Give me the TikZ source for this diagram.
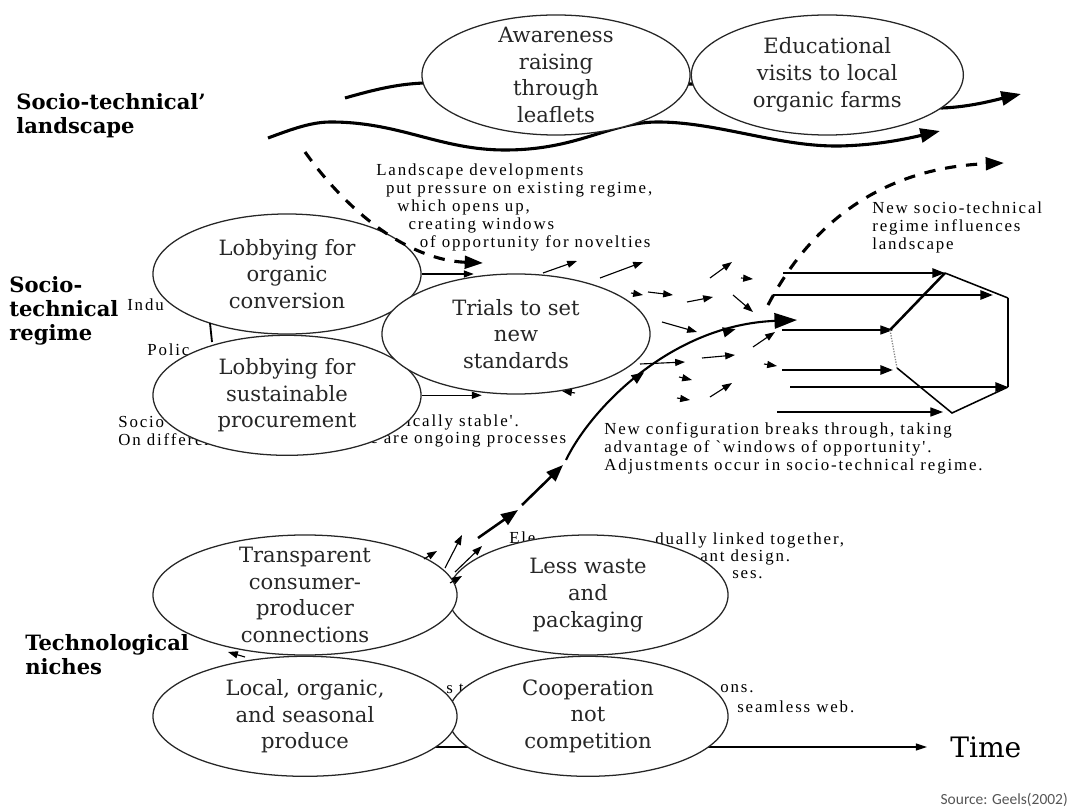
\documentclass[tikz,border=0pt]{standalone}
\usepackage{fontspec}
\setmainfont{DejaVu Serif}
\newfontfamily\geelsfont[LetterSpace=11]{Liberation Serif}
\newfontfamily\sourcefont{Carlito}
\usetikzlibrary{positioning, arrows.meta, shapes.geometric, decorations.markings}
\definecolor{inkgrey}{HTML}{262626}
\definecolor{sourcegrey}{HTML}{555555}

\begin{document}
\begin{tikzpicture}[
  x=0.025cm, y=-0.025cm,
  ellNode/.style={draw=inkgrey, ellipse, fill=white, line width=0.9pt, inner xsep=0pt, inner ysep=-12pt, minimum width=6.7cm, minimum height=3cm, align=center, text=inkgrey, font=\fontsize{15}{19}\selectfont},
  levelLabel/.style={anchor=west, align=left, inner sep=0pt, font=\fontsize{15}{17}\selectfont\bfseries},
  geelsText/.style={anchor=west, align=left, inner sep=0pt, text=black, font=\geelsfont\fontsize{12}{12.8}\selectfont},
  waveLine/.style={line width=2.2pt, -{Triangle[length=14pt,width=10pt]}},
  dashArrow/.style={line width=2.2pt, dash pattern=on 8pt off 7pt, -{Triangle[length=13pt,width=9pt]}},
  smallArrow/.style={line width=0.8pt, -{Triangle[length=7pt,width=5pt]}},
  regimeLine/.style={-{Triangle[length=9pt,width=6.5pt]}},
  breakArrow/.style={line width=1.8pt, -{Triangle[length=12pt,width=9pt]}}
]
\useasboundingbox (0,0) rectangle (1072,807);

% Landscape level
\draw[waveLine] (345,98) .. controls (380,88) and (400,84) .. (424,83) -- (692,84) -- (942,108) .. controls (970,107) and (995,100) .. (1021,94);
\draw[waveLine] (268,138) .. controls (295,128) and (312,122) .. (331,122) .. controls (400,122) and (440,150) .. (505,150) .. controls (580,150) and (610,121) .. (661,122) .. controls (720,123) and (780,147) .. (840,146) .. controls (880,145) and (910,138) .. (940,131);

% Level labels
\node[levelLabel] (landLbl) at (16,116) {Socio-technical'\\landscape};
\node[levelLabel] (regLbl) at (9,311) {Socio-\\technical\\regime};
\node[levelLabel] (nicheLbl) at (25,655) {Technological\\niches};

% Geels text, partly hidden by the ellipses
\node[geelsText] (indu) at (127,305) {Indu};
\node[geelsText] (polic) at (147,350) {Polic};
\node[geelsText] (socioFrag) at (118,422) {Socio};
\node[geelsText] (stable) at (406,422) {ically stable'.};
\node[geelsText] (differ) at (118,440) {On differen};
\node[geelsText] (ongoing) at (370,440) {e are ongoing processes};
\node[geelsText] (ele) at (509,538) {Ele};
\node[geelsText] (linked) at (655,540) {dually linked together,};
\node[geelsText] (dominant) at (700,557) {ant design.};
\node[geelsText] (moment) at (732,575) {ses.};
\node[geelsText] (visionsFrag) at (446,689) {s t};
\node[geelsText] (ons) at (720,689) {ons.};
\node[geelsText] (web) at (737,707) {seamless web.};

% Time axis
\node[anchor=west, inner sep=0pt, font=\fontsize{20}{22}\selectfont] (time) at (950,747) {Time};
\coordinate (axisStart) at (300,747);
\coordinate (axisEnd) at (927,747);
\draw[line width=0.9pt, -{Triangle[length=8pt,width=5pt]}] (axisStart) -- (axisEnd);

% Ellipses
\node[ellNode] (aware) at (556,75) {Awareness\\raising\\through\\leaflets};
\node[ellNode, minimum width=6.8cm, right=0pt of aware] (visits) {Educational\\visits to local\\organic farms};
\node[ellNode] (organic) at (287,274) {Lobbying for\\organic\\conversion};
\node[ellNode, below=0pt of organic] (procure) {Lobbying for\\sustainable\\procurement};
\node[ellNode] (trials) at (516,334) {Trials to set\\new\\standards};
\node[ellNode, minimum width=7cm] (waste) at (588,595) {Less waste\\and\\packaging};
\node[ellNode, minimum width=7cm, below=0pt of waste] (coop) {Cooperation\\not\\competition};
\node[ellNode, minimum width=7.6cm] (transp) at (305,595) {Transparent\\consumer-\\producer\\connections};
\node[ellNode, minimum width=7.6cm, below=0pt of transp] (local) {Local, organic,\\and seasonal\\produce};

% Other Geels text
\node[geelsText] (pressure) at (376,207) {Landscape developments\\\hspace*{7pt}put pressure on existing regime,\\\hspace*{15pt}which opens up,\\\hspace*{23pt}creating windows\\\hspace*{31pt}of opportunity for novelties};
\node[geelsText] (influence) at (872,227) {New socio-technical\\regime influences\\landscape};
\node[geelsText] (breaks) at (604,448) {New configuration breaks through, taking\\advantage of `windows of opportunity'.\\Adjustments occur in socio-technical regime.};
\node[anchor=east, inner sep=0pt, text=sourcegrey, font=\sourcefont\fontsize{11}{13}\selectfont] (source) at (1068,800) {Source: Geels(2002)};

% Regime dimensions
\draw[line width=1.3pt] (210,323) -- (212,342);
\draw[smallArrow] (organic.east) -- ++(52,0);
\draw[smallArrow] (procure.east) -- ++(60,0);
\foreach \xa/\ya/\xb/\yb in {543/273/577/261, 600/278/643/262, 631/293/643/295, 648/292/673/295, 687/302/713/297, 710/278/732/262, 741/278/753/279, 733/295/753/312, 662/322/697/332, 753/347/775/332, 640/364/685/362, 702/358/735/355, 764/364/777/366, 679/377/692/380, 710/397/732/383, 677/398/690/400, 575/393/562/391}
  \draw[smallArrow] (\xa,\ya) -- (\xb,\yb);

% New regime
\foreach \yl/\xs/\xe/\lw in {273/783/945/1.6, 295/773/993/1.6, 330/782/893/0.8, 370/782/893/1.6, 387/790/1008/1.6, 412/777/943/0.9}
  \draw[regimeLine, line width=\lw pt] (\xs,\yl) -- (\xe,\yl);
\draw[line width=1.1pt] (945,273) -- (1008,298);
\draw[line width=1.8pt] (1008,298) -- (1008,387);
\draw[line width=1.1pt] (1008,387) -- (952,413) -- (897,368);
\draw[line width=1.8pt] (945,273) -- (890,330);
\draw[gray, densely dotted, line width=0.9pt] (890,330) -- (897,368);

% Landscape pressure and feedback
\draw[dashArrow] (305,152) .. controls (350,215) and (410,260) .. (483,263);
\draw[dashArrow] (768,305) .. controls (810,225) and (880,168) .. (1004,163);

% Breakthrough from the niches
\draw[smallArrow] (424,559) -- (437,551);
\draw[smallArrow] (450,583) -- (462,576);
\draw[smallArrow] (245,657) -- (228,652);
\draw[smallArrow] (445,568) -- (462,535);
\draw[smallArrow] (455,572) -- (482,546);
\draw[breakArrow] (478,538) -- (518,510);
\draw[breakArrow] (522,505) -- (563,465);
\draw[line width=1.5pt, -{Triangle[length=16pt,width=11pt]}, postaction={decorate},
  decoration={markings, mark=at position 0.42 with {\arrow{Triangle[length=9pt,width=7pt]}}, mark=at position 0.78 with {\arrow{Triangle[length=9pt,width=7pt]}}}]
  (566,460) .. controls (590,410) and (670,325) .. (797,320);

\end{tikzpicture}
\end{document}
